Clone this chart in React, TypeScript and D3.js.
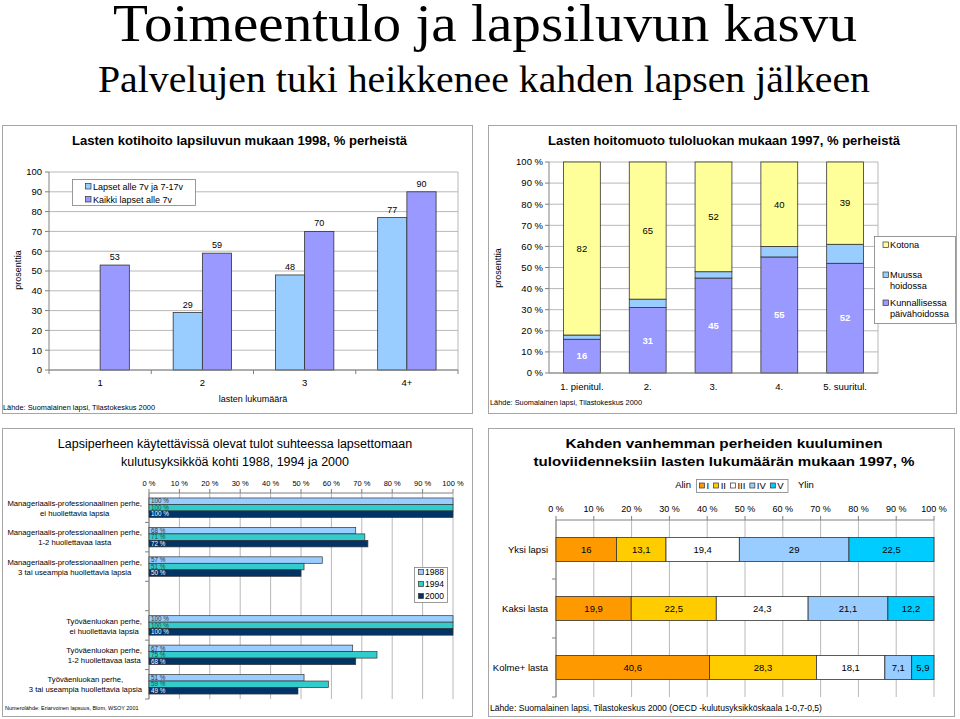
import React from 'react';
import * as d3 from 'd3';

const SANS = '"Liberation Sans", Arial, Helvetica, sans-serif';
const SERIF = '"Liberation Serif", "Times New Roman", serif';

// ---------- page ----------
const pageTitle = 'Toimeentulo ja lapsiluvun kasvu';
const pageSubtitle = 'Palvelujen tuki heikkenee kahden lapsen jälkeen';

// ---------- chart 1 ----------
const kotiTitle = 'Lasten kotihoito lapsiluvun mukaan 1998, % perheistä';
const kotiCategories = ['1', '2', '3', '4+'];
const kotiSeriesNames = ['Lapset alle 7v ja 7-17v', 'Kaikki lapset alle 7v'];
const kotiAlle7ja717: (number | null)[] = [null, 29, 48, 77];
const kotiKaikkiAlle7: (number | null)[] = [53, 59, 70, 90];
const kotiTicks = [0, 10, 20, 30, 40, 50, 60, 70, 80, 90, 100];
const kotiXTitle = 'lasten lukumäärä';
const kotiYTitle = 'prosenttia';
const kotiSource = 'Lähde: Suomalainen lapsi, Tilastokeskus 2000';

// ---------- chart 2 ----------
const hoitoTitle = 'Lasten hoitomuoto tuloluokan mukaan 1997, % perheistä';
const hoitoCategories = ['1. pienitul.', '2.', '3.', '4.', '5. suuritul.'];
const hoitoKunnallinen = [16, 31, 45, 55, 52];
const hoitoMuussa = [2, 4, 3, 5, 9];
const hoitoKotona = [82, 65, 52, 40, 39];
const hoitoTicks = [0, 10, 20, 30, 40, 50, 60, 70, 80, 90, 100];
const hoitoLegend = [['Kotona'], ['Muussa', 'hoidossa'], ['Kunnallisessa', 'päivähoidossa']];
const hoitoSource = 'Lähde: Suomalainen lapsi, Tilastokeskus 2000';

// ---------- chart 3 ----------
const tulotTitle = ['Lapsiperheen käytettävissä olevat tulot suhteessa lapsettomaan', 'kulutusyksikköä kohti 1988, 1994 ja 2000'];
const tulotCategories = [
  ['Manageriaalis-professionaalinen perhe,', 'ei huollettavia lapsia'],
  ['Manageriaalis-professionaalinen perhe,', '1-2 huollettavaa lasta'],
  ['Manageriaalis-professionaalinen perhe,', '3 tai useampia huollettavia lapsia'],
  [],
  ['Työväenluokan perhe,', 'ei huollettavia lapsia'],
  ['Työväenluokan perhe,', '1-2 huollettavaa lasta'],
  ['Työväenluokan perhe,', '3 tai useampia huollettavia lapsia'],
];
const tulotYears = ['1988', '1994', '2000'];
const tulot1988: (number | null)[] = [100, 68, 57, null, 100, 67, 51];
const tulot1994: (number | null)[] = [100, 71, 51, null, 100, 75, 59];
const tulot2000: (number | null)[] = [100, 72, 50, null, 100, 68, 49];
const tulotTicks = [0, 10, 20, 30, 40, 50, 60, 70, 80, 90, 100];
const tulotSource = 'Numerolähde: Eriarvoinen lapsuus, Blom, WSOY 2001';

// ---------- chart 4 ----------
const viidTitle = ['Kahden vanhemman perheiden kuuluminen', 'tuloviidenneksiin lasten lukumäärän mukaan 1997, %'];
const viidCategories = ['Yksi lapsi', 'Kaksi lasta', 'Kolme+ lasta'];
const viidNames = ['I', 'II', 'III', 'IV', 'V'];
const viidI = [16, 19.9, 40.6];
const viidII = [13.1, 22.5, 28.3];
const viidIII = [19.4, 24.3, 18.1];
const viidIV = [29, 21.1, 7.1];
const viidV = [22.5, 12.2, 5.9];
const viidTicks = [0, 10, 20, 30, 40, 50, 60, 70, 80, 90, 100];
const viidSource = 'Lähde: Suomalainen lapsi, Tilastokeskus 2000 (OECD -kulutusyksikköskaala 1-0,7-0,5)';

// ---------- helpers ----------
let measureCtx: CanvasRenderingContext2D | null = null;
function textWidth(s: string, size: number, weight = 'normal') {
  if (!measureCtx && typeof document !== 'undefined') {
    measureCtx = document.createElement('canvas').getContext('2d');
  }
  if (!measureCtx) return s.length * size * 0.5;
  measureCtx.font = `${weight} ${size}px "Liberation Sans", Arial, sans-serif`;
  return measureCtx.measureText(s).width;
}
const fmtComma = (v: number) => String(v).replace('.', ',');

const GRID = '#b8b8b8';
const AXIS = '#808080';
const BORDER = '#a6a6a6';

function Chart1() {
  const x = d3.scaleBand<string>().domain(kotiCategories).range([49, 458]);
  const y = d3.scaleLinear().domain([0, 100]).range([370, 172]);
  const bw = x.bandwidth() / 3.5;
  const series = [kotiAlle7ja717, kotiKaikkiAlle7];
  const colors = ['#99CCFF', '#9999FF'];
  return (
    <g fontFamily={SANS}>
      <rect x={2.5} y={125.5} width={470} height={288} fill="#fff" stroke={BORDER} />
      <text x={239.5} y={145} fontSize={13} fontWeight="bold" textAnchor="middle" textLength={335} lengthAdjust="spacingAndGlyphs">{kotiTitle}</text>
      {kotiTicks.map(t => (
        <g key={t}>
          <line x1={49} x2={458} y1={y(t)} y2={y(t)} stroke={GRID} />
          <line x1={45} x2={49} y1={y(t)} y2={y(t)} stroke={AXIS} />
          <text x={42} y={y(t)} dy="0.35em" fontSize={9.5} textAnchor="end">{t}</text>
        </g>
      ))}
      <line x1={458} x2={458} y1={y(100)} y2={y(0)} stroke={GRID} />
      {series.map((s, si) => s.map((v, i) => v == null ? null : (
        <g key={`${si}-${i}`}>
          <rect x={(x(kotiCategories[i]) as number) + x.bandwidth() / 2 - bw + si * bw} y={y(v)} width={bw} height={y(0) - y(v)} fill={colors[si]} stroke="#333" strokeWidth={0.8} />
          <text x={(x(kotiCategories[i]) as number) + x.bandwidth() / 2 - bw / 2 + si * bw} y={y(v) - 5} fontSize={9} textAnchor="middle">{v}</text>
        </g>
      )))}
      <line x1={49} x2={49} y1={y(100)} y2={y(0)} stroke={AXIS} />
      <line x1={49} x2={458} y1={y(0)} y2={y(0)} stroke={AXIS} />
      {kotiCategories.concat(['']).map((c, i) => (
        <line key={i} x1={49 + i * x.step()} x2={49 + i * x.step()} y1={y(0)} y2={y(0) + 4} stroke={AXIS} />
      ))}
      {kotiCategories.map(c => (
        <text key={c} x={(x(c) as number) + x.bandwidth() / 2} y={386} fontSize={9.5} textAnchor="middle">{c}</text>
      ))}
      <text x={253} y={402} fontSize={9} textAnchor="middle">{kotiXTitle}</text>
      <text transform="translate(21,270) rotate(-90)" fontSize={9} textAnchor="middle">{kotiYTitle}</text>
      <text x={3} y={410} fontSize={7.4}>{kotiSource}</text>
      <rect x={72.5} y={179.5} width={123} height={26} fill="#fff" stroke={AXIS} strokeWidth={0.8} />
      {kotiSeriesNames.map((n, i) => (
        <g key={n}>
          <rect x={85.5} y={183.5 + i * 13} width={5.5} height={5.5} fill={colors[i]} stroke="#333" strokeWidth={0.7} />
          <text x={93} y={189.5 + i * 13} fontSize={9}>{n}</text>
        </g>
      ))}
    </g>
  );
}

function Chart2() {
  const x = d3.scaleBand<string>().domain(hoitoCategories).range([549, 878]);
  const y = d3.scaleLinear().domain([0, 100]).range([373, 162]);
  const bw = x.step() * 0.56;
  const rows = hoitoCategories.map((c, i) => ({ cat: c, kun: hoitoKunnallinen[i], muu: hoitoMuussa[i], kot: hoitoKotona[i] }));
  const stack = d3.stack<any>().keys(['kun', 'muu', 'kot'])(rows);
  const colors = ['#9999FF', '#99CCFF', '#FFFF99'];
  const legendColors = ['#FFFF99', '#99CCFF', '#9999FF'];
  return (
    <g fontFamily={SANS}>
      <rect x={488.5} y={125.5} width={468} height={288} fill="#fff" stroke={BORDER} />
      <text x={724} y={145} fontSize={13} fontWeight="bold" textAnchor="middle" textLength={352} lengthAdjust="spacingAndGlyphs">{hoitoTitle}</text>
      {hoitoTicks.map(t => (
        <g key={t}>
          <line x1={549} x2={878} y1={y(t)} y2={y(t)} stroke={GRID} />
          <line x1={545} x2={549} y1={y(t)} y2={y(t)} stroke={AXIS} />
          <text x={543} y={y(t)} dy="0.35em" fontSize={9.5} textAnchor="end">{`${t} %`}</text>
        </g>
      ))}
      <line x1={878} x2={878} y1={y(100)} y2={y(0)} stroke={GRID} />
      {stack.map((layer, li) => layer.map((d, i) => {
        const cx = (x(hoitoCategories[i]) as number) + x.bandwidth() / 2;
        return (
          <g key={`${li}-${i}`}>
            <rect x={cx - bw / 2} y={y(d[1])} width={bw} height={y(d[0]) - y(d[1])} fill={colors[li]} stroke="#333" strokeWidth={0.8} />
            {li !== 1 && (
              <text x={cx} y={(y(d[0]) + y(d[1])) / 2} dy="0.35em" fontSize={9.5} textAnchor="middle"
                fill={li === 0 ? '#fff' : '#000'} fontWeight={li === 0 ? 'bold' : 'normal'}>{d[1] - d[0]}</text>
            )}
          </g>
        );
      }))}
      <line x1={549} x2={549} y1={y(100)} y2={y(0)} stroke={AXIS} />
      <line x1={549} x2={878} y1={y(0)} y2={y(0)} stroke={AXIS} />
      {hoitoCategories.map(c => (
        <text key={c} x={(x(c) as number) + x.bandwidth() / 2} y={390} fontSize={9.5} textAnchor="middle">{c}</text>
      ))}
      <text transform="translate(501,268) rotate(-90)" fontSize={9} textAnchor="middle">prosenttia</text>
      <text x={490} y={405} fontSize={7.4}>{hoitoSource}</text>
      <rect x={874.5} y={236.5} width={81} height={87} fill="#fff" stroke={AXIS} strokeWidth={0.8} />
      {hoitoLegend.map((lines, i) => {
        const yy = [245, 275, 303][i];
        return (
          <g key={i}>
            <rect x={883} y={yy - 3} width={5.5} height={5.5} fill={legendColors[i]} stroke="#333" strokeWidth={0.7} />
            {lines.map((l, j) => (
              <text key={j} x={890} y={yy + j * 11} dy="0.35em" fontSize={9.2}>{l}</text>
            ))}
          </g>
        );
      })}
    </g>
  );
}

function Chart3() {
  const x = d3.scaleLinear().domain([0, 100]).range([149, 453]);
  const y = d3.scaleBand<number>().domain(tulotCategories.map((_, i) => i)).range([493, 699]);
  const bh = 6.5;
  const series = [tulot1988, tulot1994, tulot2000];
  const colors = ['#99CCFF', '#33CCCC', '#003366'];
  const labelColors = ['#333', '#2a4a4a', '#fff'];
  return (
    <g fontFamily={SANS}>
      <rect x={2.5} y={428.5} width={470} height={288} fill="#fff" stroke={BORDER} />
      {tulotTitle.map((t, i) => (
        <text key={i} x={235} y={448 + i * 18} fontSize={12.5} textAnchor="middle">{t}</text>
      ))}
      {tulotTicks.map(t => (
        <g key={t}>
          <line x1={x(t)} x2={x(t)} y1={493} y2={699} stroke={GRID} />
          <line x1={x(t)} x2={x(t)} y1={489} y2={493} stroke={AXIS} />
          <text x={x(t)} y={486} fontSize={7.5} textAnchor="middle">{`${t} %`}</text>
        </g>
      ))}
      <line x1={149} x2={453} y1={493} y2={493} stroke={AXIS} />
      <line x1={149} x2={149} y1={493} y2={699} stroke={AXIS} />
      {tulotCategories.map((_, i) => (
        <line key={i} x1={145} x2={149} y1={493 + (i + 1) * y.step()} y2={493 + (i + 1) * y.step()} stroke={AXIS} />
      ))}
      {series.map((s, si) => s.map((v, i) => v == null ? null : (
        <g key={`${si}-${i}`}>
          <rect x={x(0)} y={(y(i) as number) + y.bandwidth() / 2 - 1.5 * bh + si * bh} width={x(v) - x(0)} height={bh} fill={colors[si]} stroke="#333" strokeWidth={0.7} />
          <text x={x(0) + 2} y={(y(i) as number) + y.bandwidth() / 2 - 1.5 * bh + si * bh + bh / 2} dy="0.35em" fontSize={6.3} fill={labelColors[si]}>{`${v} %`}</text>
        </g>
      )))}
      {tulotCategories.map((lines, i) => {
        if (!lines.length) return null;
        const fs = 7.7;
        const wmax = Math.max(...lines.map(l => textWidth(l, fs)));
        const cx = 142 - wmax / 2;
        const cy = (y(i) as number) + y.bandwidth() / 2;
        return (
          <g key={i}>
            {lines.map((l, j) => (
              <text key={j} x={cx} y={cy - 4.5 + j * 10} dy="0.35em" fontSize={fs} textAnchor="middle">{l}</text>
            ))}
          </g>
        );
      })}
      <rect x={414.5} y={567.5} width={33} height={35} fill="#fff" stroke={AXIS} strokeWidth={0.8} />
      {tulotYears.map((yr, i) => (
        <g key={yr}>
          <rect x={418.5} y={569.5 + i * 12} width={5} height={5} fill={colors[i]} stroke="#333" strokeWidth={0.7} />
          <text x={425} y={572 + i * 12} dy="0.35em" fontSize={8.5}>{yr}</text>
        </g>
      ))}
      <text x={5} y={710} fontSize={5.5}>{tulotSource}</text>
    </g>
  );
}

function Chart4() {
  const x = d3.scaleLinear().domain([0, 100]).range([556, 934]);
  const y = d3.scaleBand<string>().domain(viidCategories).range([520, 697]);
  const bh = y.step() * 0.41;
  const rows = viidCategories.map((c, i) => ({ cat: c, I: viidI[i], II: viidII[i], III: viidIII[i], IV: viidIV[i], V: viidV[i] }));
  const stack = d3.stack<any>().keys(viidNames)(rows);
  const colors = ['#FF9900', '#FFCC00', '#FFFFFF', '#99CCFF', '#00CCFF'];
  const fsL = 9.5;
  let lx = 699.5;
  const legendItems = viidNames.map((n, i) => {
    const item = { n, sx: lx, tx: lx + 7, color: colors[i] };
    lx += 7 + textWidth(n, fsL) + 4.5;
    return item;
  });
  return (
    <g fontFamily={SANS}>
      <rect x={488.5} y={428.5} width={466} height={288} fill="#fff" stroke={BORDER} />
      {viidTitle.map((t, i) => (
        <text key={i} x={724} y={448 + i * 18} fontSize={13} fontWeight="bold" textAnchor="middle"
          textLength={i === 0 ? 317 : 381} lengthAdjust="spacingAndGlyphs">{t}</text>
      ))}
      <text x={691} y={485} dy="0.35em" fontSize={fsL} textAnchor="end">Alin</text>
      <rect x={696.5} y={479.5} width={91.5} height={13} fill="#fff" stroke={AXIS} strokeWidth={0.8} />
      {legendItems.map(it => (
        <g key={it.n}>
          <rect x={it.sx} y={483} width={5} height={5} fill={it.color} stroke="#333" strokeWidth={0.7} />
          <text x={it.tx} y={486} dy="0.35em" fontSize={fsL}>{it.n}</text>
        </g>
      ))}
      <text x={798} y={485} dy="0.35em" fontSize={fsL}>Ylin</text>
      {viidTicks.map(t => (
        <g key={t}>
          <line x1={x(t)} x2={x(t)} y1={520} y2={697} stroke={GRID} />
          <line x1={x(t)} x2={x(t)} y1={516} y2={520} stroke={AXIS} />
          <text x={x(t)} y={512} fontSize={9} textAnchor="middle">{`${t} %`}</text>
        </g>
      ))}
      <line x1={556} x2={934} y1={520} y2={520} stroke={AXIS} />
      <line x1={556} x2={556} y1={520} y2={697} stroke={AXIS} />
      {viidCategories.map((_, i) => (
        <line key={i} x1={552} x2={556} y1={520 + (i + 1) * y.step()} y2={520 + (i + 1) * y.step()} stroke={AXIS} />
      ))}
      {stack.map((layer, li) => layer.map((d, i) => {
        const cy = (y(viidCategories[i]) as number) + y.bandwidth() / 2;
        return (
          <g key={`${li}-${i}`}>
            <rect x={x(d[0])} y={cy - bh / 2} width={x(d[1]) - x(d[0])} height={bh} fill={colors[li]} stroke="#333" strokeWidth={0.8} />
            <text x={(x(d[0]) + x(d[1])) / 2} y={cy} dy="0.35em" fontSize={9.5} textAnchor="middle">{fmtComma(+(d[1] - d[0]).toFixed(1))}</text>
          </g>
        );
      }))}
      {viidCategories.map(c => (
        <text key={c} x={548} y={(y(c) as number) + y.bandwidth() / 2} dy="0.35em" fontSize={9.5} textAnchor="end">{c}</text>
      ))}
      <text x={490} y={711} fontSize={8.6}>{viidSource}</text>
    </g>
  );
}

export default function App() {
  return (
    <svg width={960} height={719} viewBox="0 0 960 719" style={{ position: 'absolute', left: 0, top: 0, background: '#fff' }}>
      <rect x={0} y={0} width={960} height={719} fill="#fff" />
      <text x={113} y={41} fontFamily={SERIF} fontSize={52} textLength={744} lengthAdjust="spacingAndGlyphs">{pageTitle}</text>
      <text x={98} y={92} fontFamily={SERIF} fontSize={37} textLength={772} lengthAdjust="spacingAndGlyphs">{pageSubtitle}</text>
      <Chart1 />
      <Chart2 />
      <Chart3 />
      <Chart4 />
    </svg>
  );
}
